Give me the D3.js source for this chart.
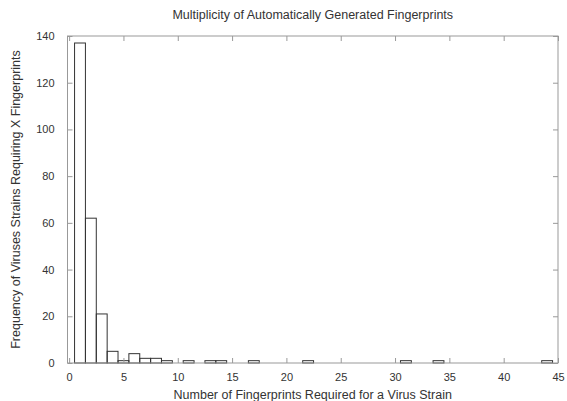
<!DOCTYPE html>
<html><head><meta charset="utf-8">
<script src="https://cdn.jsdelivr.net/npm/d3@7"></script>
<style>
body{margin:0;background:#fff;}
text{font-family:"Liberation Sans",Arial,Helvetica,sans-serif;fill:#333;}
</style></head>
<body>
<svg id="c" width="567" height="401"></svg>
<script>
const binCenters = [1,2,3,4,5,6,7,8,9,11,13,14,17,22,31,34,44];
const counts     = [137,62,21,5,1,4,2,2,1,1,1,1,1,1,1,1,1];
const xTicks = [0,5,10,15,20,25,30,35,40,45];
const yTicks = [0,20,40,60,80,100,120,140];
const title = "Multiplicity of Automatically Generated Fingerprints";
const xLabel = "Number of Fingerprints Required for a Virus Strain";
const yLabel = "Frequency of Viruses Strains Requiring X Fingerprints";

const L=67.5,R=558,T=36,B=363;
const svg=d3.select("#c");
const x=d3.scaleLinear().domain([-0.15,45]).range([L,R]);
const y=d3.scaleLinear().domain([0,140]).range([B,T]);

svg.append("g").selectAll("rect").data(binCenters).join("rect")
 .attr("x",(d)=>x(d-0.5)).attr("width",(d)=>x(d+0.5)-x(d-0.5))
 .attr("y",(d,i)=>y(counts[i])).attr("height",(d,i)=>B-y(counts[i]))
 .attr("fill","none").attr("stroke","#333").attr("stroke-width",1);

const frameCol="#999";
const gBottom=svg.append("g").attr("transform",`translate(0,${B})`)
 .call(d3.axisBottom(x).tickValues(xTicks).tickSize(-5).tickPadding(10).tickFormat(d3.format("d")));
const gTop=svg.append("g").attr("transform",`translate(0,${T})`)
 .call(d3.axisTop(x).tickValues(xTicks).tickSize(-5).tickFormat(""));
const gLeft=svg.append("g").attr("transform",`translate(${L},0)`)
 .call(d3.axisLeft(y).tickValues(yTicks).tickSize(-5).tickPadding(13).tickFormat(d3.format("d")));
const gRight=svg.append("g").attr("transform",`translate(${R},0)`)
 .call(d3.axisRight(y).tickValues(yTicks).tickSize(-5).tickFormat(""));
[gBottom,gTop,gLeft,gRight].forEach(g=>{
  g.select(".domain").remove();
  g.selectAll(".tick line").attr("stroke",frameCol);
  g.selectAll(".tick text").style("font-size","11px").attr("fill","#444");
});
svg.append("rect").attr("x",L).attr("y",T).attr("width",R-L).attr("height",B-T)
 .attr("fill","none").attr("stroke",frameCol).attr("stroke-width",1);

svg.append("text").attr("x",(L+R)/2).attr("y",19).attr("text-anchor","middle")
 .style("font-size","12.5px").text(title);
svg.append("text").attr("x",(L+R)/2).attr("y",399).attr("text-anchor","middle")
 .style("font-size","12.5px").text(xLabel);
svg.append("text").attr("transform",`translate(20,${(T+B)/2}) rotate(-90)`).attr("text-anchor","middle")
 .style("font-size","12.5px").text(yLabel);
</script>
</body></html>
